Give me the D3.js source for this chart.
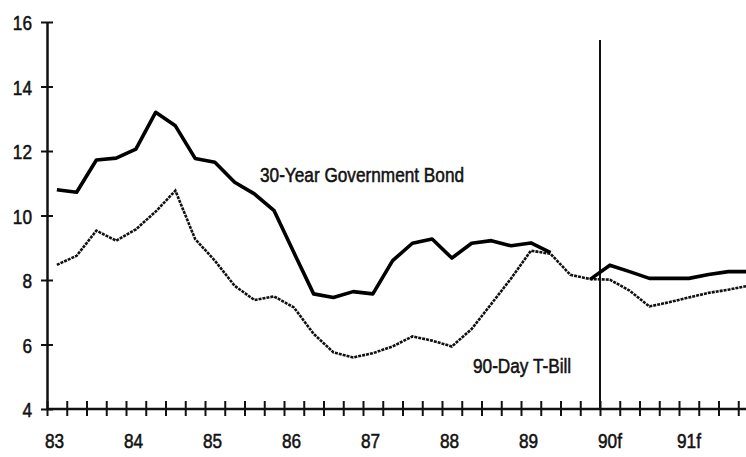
<!DOCTYPE html>
<html>
<head>
    <meta charset="utf-8">
    <title>bond vs t-bill</title>
    <script type="text/javascript" src="https://d3js.org/d3.v7.min.js"></script>
    <style>
      body { margin: 0; background: #fff; }
      text { font-family: "Liberation Sans", Arial, sans-serif; fill: #111; stroke: #111; stroke-width: 0.55px; }
    </style>
</head>
<body>
<script type="text/javascript">

        var width = 746
        var height = 457
        var fontSize = 21
        var squeeze = 0.82   // the original type is a narrow face

        // quarters, 83Q1 .. 91Q4
        var quarters = ["83Q1","83Q2","83Q3","83Q4","84Q1","84Q2","84Q3","84Q4",
                        "85Q1","85Q2","85Q3","85Q4","86Q1","86Q2","86Q3","86Q4",
                        "87Q1","87Q2","87Q3","87Q4","88Q1","88Q2","88Q3","88Q4",
                        "89Q1","89Q2","89Q3","89Q4","90Q1","90Q2","90Q3","90Q4",
                        "91Q1","91Q2","91Q3","91Q4"]

        var bond  = [10.80,10.72,11.72,11.78,12.06,13.20,12.78,11.77,
                     11.65,11.03,10.67,10.15, 8.85, 7.57, 7.46, 7.64,
                      7.57, 8.60, 9.14, 9.27, 8.68, 9.14, 9.22, 9.06,
                      9.15, 8.85, null, 8.02, 8.46, 8.26, 8.05, 8.05,
                      8.05, 8.17, 8.26, 8.26]

        var tbill = [ 8.47, 8.75, 9.53, 9.22, 9.57,10.12,10.77, 9.27,
                      8.60, 7.82, 7.38, 7.49, 7.15, 6.33, 5.76, 5.60,
                      5.73, 5.94, 6.25, 6.12, 5.94, 6.48, 7.26, 8.05,
                      8.91, 8.81, 8.16, 8.03, 8.01, 7.67, 7.18, 7.31,
                      7.46, 7.60, 7.70, 7.82]

        var yearLabels = ["83","84","85","86","87","88","89","90f","91f"]
        var yTicks = [4,6,8,10,12,14,16]
        var forecastStart = 1990

        function yearOf(label){
            // "83" or "90f" -> 1983 / 1990
            return 1900 + parseInt(label)
        }
        function quarterMid(q){
            return 1900 + parseInt(q.slice(0,2)) + (parseInt(q.slice(3)) - 1)/4 + 0.125
        }
        function quarterStart(q){
            return 1900 + parseInt(q.slice(0,2)) + (parseInt(q.slice(3)) - 1)/4
        }

        var x = d3.scaleLinear().domain([1983, 1990]).range([47, 600])
        var y = d3.scaleLinear().domain([4, 16]).range([409, 22])

        var svg = d3.select("body").append("svg")
            .attr("width", width).attr("height", height)

        // y axis
        var yAxis = svg.append("g")
            .attr("transform", "translate(" + x(1983) + ",0)")
            .call(d3.axisLeft(y).tickValues(yTicks).tickSizeOuter(0).tickFormat(d3.format("d")))
        yAxis.select(".domain").attr("stroke", "#111").attr("stroke-width", 2.5)
        yAxis.selectAll(".tick line").attr("x1", -6).attr("x2", 6)
            .attr("stroke", "#111").attr("stroke-width", 2)
        yAxis.selectAll(".tick text")
            .attr("x", null).attr("dy", "0.36em")
            .attr("transform", "translate(-15,0) scale(" + squeeze + ",1)")
            .style("font-size", fontSize + "px")
            .attr("text-anchor", "end")

        // x axis with quarter ticks
        var xAxis = svg.append("g")
            .attr("transform", "translate(0," + y(4) + ")")
            .call(d3.axisBottom(x).tickValues(quarters.map(quarterStart)).tickSizeOuter(0).tickFormat(""))
        xAxis.select(".domain").attr("d", "M" + x(1983) + ",0H" + width)
            .attr("stroke", "#111").attr("stroke-width", 2.5)
        xAxis.selectAll(".tick line").attr("y1", -8).attr("y2", 7)
            .attr("stroke", "#111").attr("stroke-width", 2)

        svg.append("g").selectAll("text")
            .data(yearLabels)
            .enter()
            .append("text")
            .attr("transform", function(d){
                return "translate(" + (x(yearOf(d)) - 2) + "," + (y(4) + 39) + ") scale(" + squeeze + ",1)"
            })
            .style("font-size", fontSize + "px")
            .text(function(d){ return d })

        // forecast divider
        svg.append("line")
            .attr("x1", x(forecastStart)).attr("x2", x(forecastStart))
            .attr("y1", 40).attr("y2", y(4))
            .attr("stroke", "#111").attr("stroke-width", 2)

        var line = function(values){
            return d3.line()
                .defined(function(d, i){ return values[i] != null })
                .x(function(d){ return x(quarterMid(d)) })
                .y(function(d, i){ return y(values[i]) })(quarters)
        }

        svg.append("path")
            .attr("d", line(tbill))
            .attr("fill", "none")
            .attr("stroke", "#111")
            .attr("stroke-width", 2.6)
            .attr("stroke-dasharray", "3,1")

        svg.append("path")
            .attr("d", line(bond))
            .attr("fill", "none")
            .attr("stroke", "#000")
            .attr("stroke-width", 3.6)
            .attr("stroke-linejoin", "round")

        // series labels
        svg.append("text")
            .attr("transform", "translate(260,182) scale(" + squeeze + ",1)")
            .style("font-size", fontSize + "px")
            .text("30-Year Government Bond")

        svg.append("text")
            .attr("transform", "translate(473,373) scale(" + squeeze + ",1)")
            .style("font-size", fontSize + "px")
            .text("90-Day T-Bill")

</script>
</body>
</html>
